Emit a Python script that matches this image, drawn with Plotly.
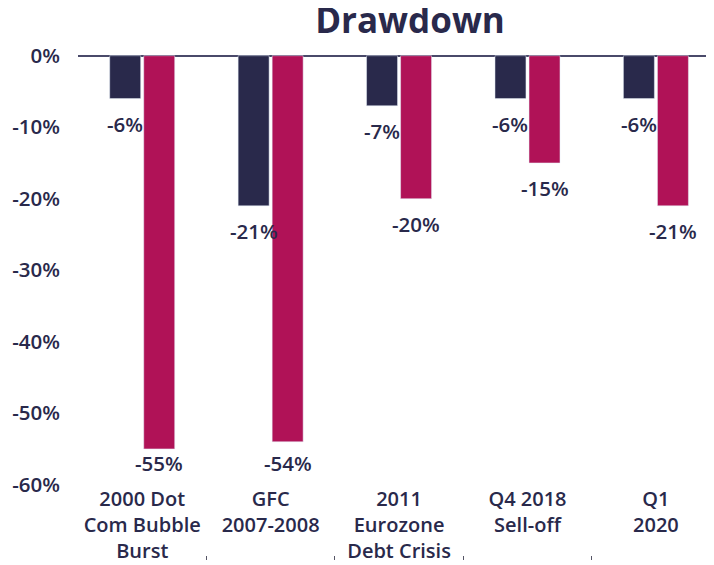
import plotly.graph_objects as go

categories = ["2000 Dot<br>Com Bubble<br>Burst", "GFC<br>2007-2008", "2011<br>Eurozone<br>Debt Crisis",
              "Q4 2018<br>Sell-off", "Q1<br>2020"]
portfolio_dd = [-0.06, -0.21, -0.07, -0.06, -0.06]
equity_dd = [-0.55, -0.54, -0.20, -0.15, -0.21]
y_ticks = [0, -0.1, -0.2, -0.3, -0.4, -0.5, -0.6]
y_tick_text = ["0%", "-10%", "-20%", "-30%", "-40%", "-50%", "-60%"]

NAVY = "#29294b"
CRIMSON = "#b01257"
FONT = "Open Sans"
BARGAP = 0.47
GROUPGAP = 0.09
W, H = 698, 565
S = 565 / 581  # page (body margins) is scaled into the photo vertically


def fy(target):
    """figure-pixel y that lands at a given photo pixel y"""
    return target / S - 8


top = fy(53)
bottom = fy(482)
dom_low = 1 - (bottom - top) / (H - top)

fig = go.Figure()
fig.add_trace(go.Bar(x=categories, y=portfolio_dd, name="Portfolio", marker_color=NAVY))
fig.add_trace(go.Bar(x=categories, y=equity_dd, name="Equities", marker_color=CRIMSON))

off = (1 - BARGAP) / 4
label_floor = -0.535
annotations = []
for i in range(len(categories)):
    for series, sgn in ((portfolio_dd, -1), (equity_dd, 1)):
        v = series[i]
        annotations.append(dict(
            x=i + sgn * off, y=max(v, label_floor), xref="x", yref="y",
            text=f"{round(v*100)}%",
            showarrow=False, yanchor="top", yshift=-9,
            font=dict(family=FONT, size=20.5, color=NAVY, weight=600)))

fig.update_layout(
    width=W, height=H, autosize=False,
    margin=dict(l=70, r=0, t=top, b=0),
    plot_bgcolor="white", paper_bgcolor="white",
    barmode="group", bargap=BARGAP, bargroupgap=GROUPGAP,
    showlegend=False,
    title=dict(text="Drawdown", x=(410 - 8) / W, xref="container", xanchor="center",
               y=1 - fy(20) / H, yref="container", yanchor="middle",
               font=dict(family=FONT, size=35, color=NAVY, weight=700)),
    font=dict(family=FONT, color=NAVY),
    xaxis=dict(range=[-0.5, 4.39], showgrid=False, showline=False, ticks="",
               tickfont=dict(family=FONT, size=20, color=NAVY, weight=600)),
    xaxis2=dict(range=[-0.5, 4.39], overlaying="x", anchor="free", position=0,
                tickvals=[-0.5, 0.5, 1.5, 2.5, 3.5, 4.5], ticks="inside", ticklen=4,
                tickcolor="#555566", showticklabels=False, showgrid=False, showline=False,
                zeroline=False),
    yaxis=dict(domain=[dom_low, 1], range=[-0.6, 0.001], tickvals=y_ticks,
               ticktext=y_tick_text, showgrid=False, zeroline=True, zerolinecolor="#4a4a6a",
               zerolinewidth=2, showline=False, ticklabelstandoff=17,
               tickfont=dict(family=FONT, size=20.5, color=NAVY, weight=600)),
    annotations=annotations,
)
fig.add_trace(go.Scatter(x=[0], y=[0], xaxis="x2", yaxis="y", mode="markers",
                         marker=dict(opacity=0), hoverinfo="skip", showlegend=False))

fig.write_html("out.html")
